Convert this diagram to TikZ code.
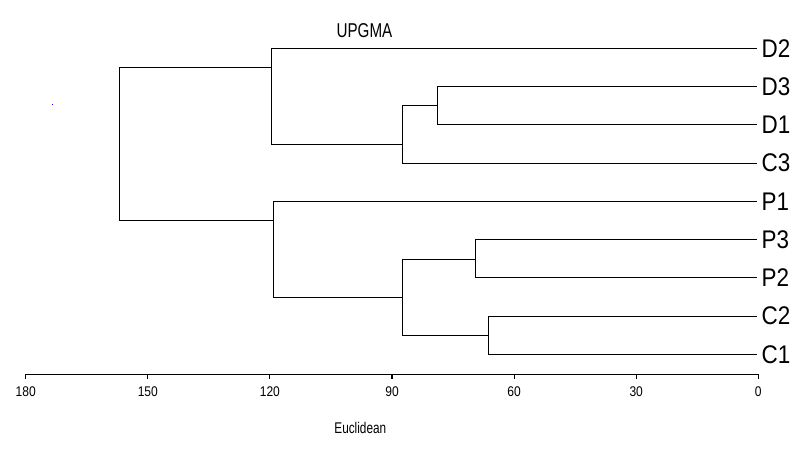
\documentclass[tikz,border=0pt]{standalone}
\usepackage{fontspec}
\setmainfont{Liberation Sans}
\newfontfamily\leaffont[FakeStretch=0.88]{Liberation Sans}
\newfontfamily\condfont[FakeStretch=0.86]{Liberation Sans}
\newfontfamily\narrowfont[FakeStretch=0.76]{Liberation Sans}
\tikzset{
  branch/.style={line width=1.1pt, black},
  leaflabel/.style={anchor=base west, inner sep=0pt, font=\leaffont\fontsize{25.5}{27}\selectfont},
  ticklabel/.style={anchor=base, inner sep=0pt, font=\condfont\fontsize{14}{15}\selectfont},
  axisline/.style={line width=1.1pt, black}
}
\begin{document}
\begin{tikzpicture}[x=1pt,y=-1pt]
\useasboundingbox (0,0) rectangle (800,449);
% leaf end coordinates and labels
\foreach \n/\lab/\y in {1/D2/48.3, 2/D3/86.6, 3/D1/124.8, 4/C3/163.1, 5/P1/201.3, 6/P3/239.6, 7/P2/277.8, 8/C2/316.1, 9/C1/354.3}{
  \coordinate (e\n) at (756.7,\y);
  \node[leaflabel] (l\n) at (761.5,\y+8.8) {\lab};
}
% junction coordinates
\coordinate (jD31) at (437.7,105.7);
\coordinate (jDC) at (402.3,144.3);
\coordinate (jD) at (271.3,67.7);
\coordinate (jP32) at (475.3,259.3);
\coordinate (jC21) at (488.7,335.3);
\coordinate (jPC) at (402.3,297.3);
\coordinate (jP) at (273.3,220.3);
% D3-D1
\draw[branch] (e2) -| (jD31) |- (e3);
% (D3D1)-C3
\draw[branch] (jD31) -| (402.3,163.1) -- (e4);
\draw[branch] (402.3,105.7) -- (402.3,144.3);
% D2 cluster
\draw[branch] (e1) -| (271.3,144.3) -- (jDC);
% P3-P2
\draw[branch] (e6) -| (jP32) |- (e7);
% C2-C1
\draw[branch] (e8) -| (jC21) |- (e9);
% (P3P2)-(C2C1)
\draw[branch] (jP32) -| (402.3,335.3) -- (jC21);
% P1 cluster
\draw[branch] (e5) -| (273.3,297.3) -- (jPC);
% root
\draw[branch] (jD) -| (119.7,220.3) -- (jP);
% title
\node[inner sep=0pt, anchor=base, font=\narrowfont\fontsize{20}{22}\selectfont] (title) at (364.5,37.7) {UPGMA};
% axis
\draw[axisline] (25.7,374.3) -- (758.3,374.3);
\foreach \v [count=\i] in {180,150,120,90,60,30,0}{
  \pgfmathsetmacro{\xx}{758.3-4.07*\v}
  \draw[axisline] (\xx,374.3) -- (\xx,379.3);
  \node[ticklabel] (t\i) at (\xx,396) {\v};
}
\node[inner sep=0pt, anchor=base, font=\narrowfont\fontsize{15.5}{17}\selectfont] (xlab) at (360.3,433.3) {Euclidean};
% tiny blue dot
\fill[blue] (51.8,103.8) rectangle (52.8,104.8);
\end{tikzpicture}
\end{document}
